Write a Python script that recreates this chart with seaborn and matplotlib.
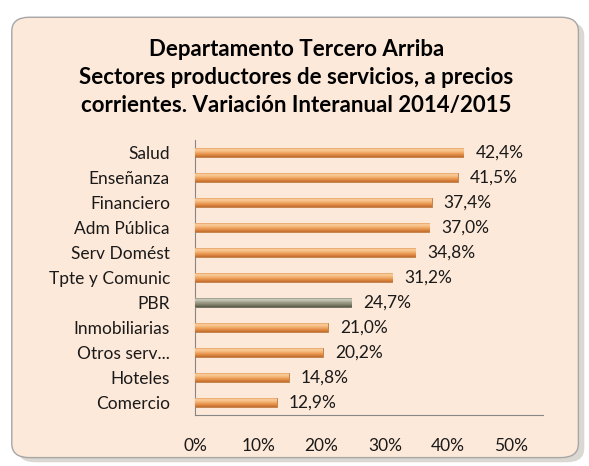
import matplotlib
matplotlib.use("Agg")
import matplotlib.pyplot as plt
from matplotlib.patches import FancyBboxPatch
from matplotlib.colors import LinearSegmentedColormap
import seaborn as sns
import numpy as np
import pandas as pd

sectores = ["Salud", "Enseñanza", "Financiero", "Adm Pública", "Serv Domést",
            "Tpte y Comunic", "PBR", "Inmobiliarias", "Otros serv...", "Hoteles",
            "Comercio"]
variacion = [0.424, 0.415, 0.374, 0.370, 0.348, 0.312, 0.247, 0.210, 0.202,
             0.148, 0.129]
xticks = [0, 0.1, 0.2, 0.3, 0.4, 0.5]

titulo = ("Departamento Tercero Arriba\n"
          "Sectores productores de servicios, a precios\n"
          "corrientes. Variación Interanual 2014/2015")

sns.set_style("white")
plt.rcParams["font.family"] = ["Lato", "DejaVu Sans"]

df = pd.DataFrame({"sector": sectores, "var": variacion})
df["tipo"] = np.where(df["sector"] == "PBR", "pbr", "sector")

fig = plt.figure(figsize=(5.89, 4.66), dpi=100)
fig.patch.set_facecolor("white")

# panel with shadow
shadow = FancyBboxPatch((0.030, 0.008), 0.962, 0.945,
                        boxstyle="round,pad=0,rounding_size=0.03",
                        transform=fig.transFigure, facecolor="#b8b0a8",
                        edgecolor="none", alpha=0.5, zorder=-3)
panel = FancyBboxPatch((0.020, 0.018), 0.962, 0.945,
                       boxstyle="round,pad=0,rounding_size=0.03",
                       transform=fig.transFigure, facecolor="#fde9d9",
                       edgecolor="#a6a6a6", linewidth=1.0, zorder=-2)
fig.patches.extend([shadow, panel])

ax = fig.add_axes([0.331, 0.109, 0.591, 0.591])
ax.set_facecolor("none")
sns.barplot(data=df, y="sector", x="var", hue="tipo", orient="h",
            palette={"sector": "#eda363", "pbr": "#8c8c78"}, width=0.38,
            dodge=False, legend=False, ax=ax)

cmap_or = LinearSegmentedColormap.from_list(
    "or", ["#d6843f", "#fbd0a0", "#f4b272", "#e48e46", "#c06c30"])
cmap_gr = LinearSegmentedColormap.from_list(
    "gr", ["#6a6a5a", "#d0d0c2", "#a3a390", "#84846e", "#5a5a4a"])
grad = np.linspace(0, 1, 64).reshape(-1, 1)
for p in ax.patches:
    x0, y0 = p.get_x(), p.get_y()
    w, h = p.get_width(), p.get_height()
    if w <= 0:
        continue
    s = sectores[int(round(y0 + h / 2))]
    cm = cmap_gr if s == "PBR" else cmap_or
    im = ax.imshow(grad, aspect="auto", cmap=cm,
                   extent=(x0, x0 + w, y0 + h, y0), zorder=3)
    im.set_clip_path(p)
    p.set_edgecolor("#c07a40" if s != "PBR" else "#66665a")
    p.set_linewidth(0.6)

for i, v in enumerate(variacion):
    ax.text(v + 0.019, i, f"{v * 100:.1f}%".replace(".", ","),
            va="center", ha="left", fontsize=12.5, color="#1a1a1a", zorder=5)

ax.set_xlim(0, 0.55)
ax.set_ylim(len(sectores) - 0.5, -0.5)
ax.set_xticks(xticks)
ax.set_xticklabels([f"{int(round(t * 100))}%" for t in xticks])
ax.set_xlabel("")
ax.set_ylabel("")
ax.set_yticks(range(len(sectores)))
ax.set_yticks(np.arange(-0.5, len(sectores), 1), minor=True)
ax.tick_params(axis="y", which="major", length=0, pad=18, labelsize=12.5,
               labelcolor="#1a1a1a")
ax.tick_params(axis="y", which="minor", length=5, color="#868686", width=0.8)
ax.tick_params(axis="x", length=5, color="#868686", width=0.8, pad=11.5,
               labelsize=12.5, labelcolor="#1a1a1a")
for side in ["top", "right"]:
    ax.spines[side].set_visible(False)
for side in ["left", "bottom"]:
    ax.spines[side].set_color("#868686")
    ax.spines[side].set_linewidth(0.8)

fig.text(0.503, 0.834, titulo, ha="center", va="center", fontsize=16,
         fontweight="bold", linespacing=1.42, color="#000000")

fig.savefig("out.png", dpi=100)
